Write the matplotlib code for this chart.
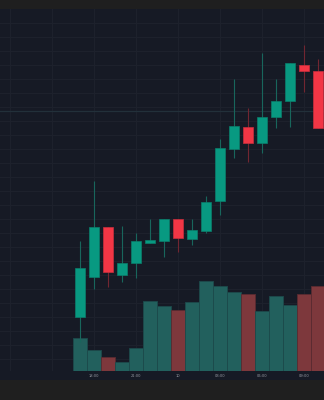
import matplotlib
matplotlib.use("Agg")
import matplotlib.pyplot as plt
from matplotlib.patches import Rectangle
import numpy as np

# ---- data ----
opens  = [66.3, 70.3, 75.3, 70.5, 71.7, 73.7, 73.9, 76.1, 74.1, 74.9, 77.9, 83.1, 85.3, 83.7, 86.3, 87.9, 91.5, 90.9]
highs  = [73.9, 79.9, 75.3, 75.4, 74.7, 76.1, 76.1, 76.1, 76.1, 78.4, 84.1, 90.1, 87.2, 92.7, 90.1, 91.7, 93.5, 92.1]
lows   = [63.8, 69.1, 69.3, 69.8, 70.2, 73.7, 72.3, 72.8, 73.5, 74.7, 76.5, 82.2, 81.8, 82.7, 85.2, 85.3, 88.8, 85.2]
closes = [71.2, 75.3, 70.8, 71.7, 73.9, 74.0, 76.1, 74.2, 75.0, 77.8, 83.2, 85.4, 83.7, 86.3, 87.9, 91.7, 90.9, 85.2]
volumes = [333, 210, 143, 93, 230, 700, 656, 613, 693, 906, 850, 793, 776, 606, 756, 666, 773, 850]
tick_idx = [1, 4, 7, 10, 13, 16]
tick_labels = ["18:00", "21:00", "10", "03:00", "06:00", "09:00"]
level_line = 86.9

# ---- style ----
W, H = 324, 400
fig = plt.figure(figsize=(W / 100, H / 100), dpi=100, facecolor="#1f1f1f")
bg = "#161a25"
top_px, bottom_px, strip_px = 8.7, 371.3, 380.0

# chart background incl. time-axis strip
fig.patches.append(Rectangle((0, 1 - strip_px / H), 1, (strip_px - top_px) / H,
                             transform=fig.transFigure, facecolor=bg, edgecolor="none", zorder=-5))

ax = fig.add_axes([0, 1 - bottom_px / H, 1, (bottom_px - top_px) / H])
for s in ax.spines.values():
    s.set_visible(False)

x = np.arange(len(opens))
ax.set_xlim(-80 / 14, (W - 80) / 14)
ax.set_ylim(60.87, 97.13)

# volume on twin axis (drawn below the candles)
vax = ax.twinx()
vax.set_ylim(0, 3626)
vax.set_xlim(ax.get_xlim())
for s in vax.spines.values():
    s.set_visible(False)
vax.patch.set_visible(False)
ax.set_zorder(2)
vax.set_zorder(1)
ax.patch.set_visible(False)

# grid (on volume axis so it sits under bars)
for gy in np.arange(62.1, 97.0, 1.4):
    vax.axhline(gy * 0 + (gy - 60.87) / (97.13 - 60.87) * 3626, color="#1d212c", lw=0.8, zorder=0.5)
for gx in range(-5, 18, 3):
    vax.axvline(gx, color="#1d212c", lw=0.8, zorder=0.5)
vax.axhline((level_line - 60.87) / (97.13 - 60.87) * 3626, color="#22303a", lw=0.9, zorder=0.6)

up = np.array(closes) >= np.array(opens)
vcol = np.where(up, "#22605d", "#7d383c")
vedge = np.where(up, "#1c4a4b", "#5a2b31")
vax.bar(x, volumes, width=1.0, color=vcol, edgecolor=vedge, linewidth=0.6, zorder=1)
vax.set_yticks([])

# candles
ccol = np.where(up, "#089981", "#f23645")
wcol = np.where(up, "#18665c", "#722631")
ax.vlines(x, lows, highs, colors=wcol, linewidth=0.8, zorder=2)
bottoms = np.minimum(opens, closes)
heights = np.maximum(np.abs(np.array(closes) - np.array(opens)), 0.25)
ax.bar(x, heights, bottom=bottoms, width=0.76, color=ccol,
       edgecolor=np.where(up, "#0a7f6c", "#c92f3d"), linewidth=0.5, zorder=3)

ax.set_yticks([])
ax.set_xticks(tick_idx)
ax.set_xticklabels(tick_labels, fontsize=2.6, color="#9598a1")
ax.tick_params(axis="x", length=0, pad=2.2)

fig.savefig("out.png", dpi=100, facecolor=fig.get_facecolor())
